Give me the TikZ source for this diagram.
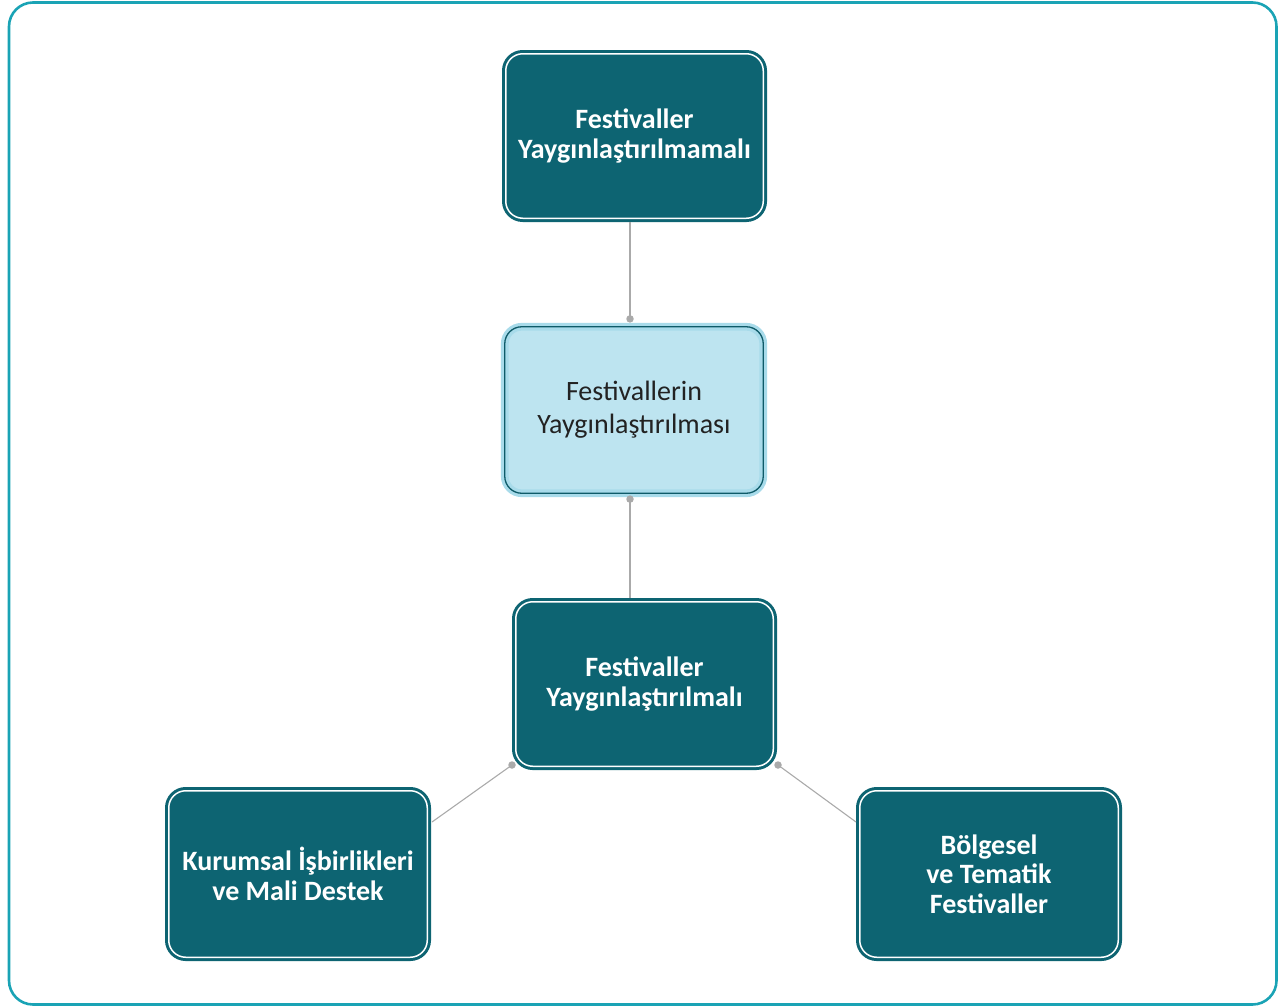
\documentclass[tikz,border=0pt]{standalone}
\usepackage{fontspec}
\setmainfont{Carlito}
\usetikzlibrary{calc}
\definecolor{frame}{HTML}{1AA3B5}
\definecolor{dteal}{HTML}{0D6472}
\definecolor{lfill}{HTML}{BDE4F0}
\definecolor{lglow}{HTML}{A8DBEA}
\definecolor{ldark}{HTML}{0E5A68}
\definecolor{conn}{HTML}{AAAAAA}
\definecolor{dtext}{HTML}{222222}
\tikzset{
  darkbox/.style={rectangle, rounded corners=17pt, fill=dteal, draw=dteal,
    line width=3pt, double=white, double distance=1.5pt, outer sep=3.75pt,
    inner sep=0pt, align=center, text=white,
    font=\bfseries\fontsize{28}{29.5}\selectfont},
  lightbox/.style={rectangle, rounded corners=17pt, fill=lfill, draw=lglow,
    line width=3.2pt, double=ldark, double distance=1.3pt, outer sep=3.85pt,
    inner sep=0pt, align=center, text=dtext,
    font=\fontsize{28}{33}\selectfont},
  link/.style={draw=conn, line width=1.1pt},
  dot/.style={circle, fill=conn, inner sep=0pt, minimum size=7.5pt}
}
\begin{document}
\begin{tikzpicture}[x=1pt,y=-1pt]
\useasboundingbox (0,0) rectangle (1279,1007);
\draw[frame, line width=2.6pt, rounded corners=24pt] (9,2.5) rectangle (1276.5,1004.5);

\node[darkbox, minimum width=257.5pt, minimum height=164.5pt] (top) at (634.5,136) {Festivaller\\Yaygınlaştırılmamalı};
\node[lightbox, minimum width=258.5pt, minimum height=166.5pt] (mid) at (634,410) {Festivallerin\\Yaygınlaştırılması};
\node[darkbox, minimum width=257.5pt, minimum height=164.5pt] (bot) at (644.5,684) {Festivaller\\Yaygınlaştırılmalı};
\node[darkbox, minimum width=258.5pt, minimum height=166.5pt] (left) at (298,874) {Kurumsal İşbirlikleri\\ve Mali Destek};
\node[darkbox, minimum width=258.5pt, minimum height=166.5pt] (right) at (989,874) {Bölgesel\\ve Tematik\\Festivaller};

\coordinate (d1) at ($(mid.north)+(-4,-4)$);
\coordinate (d2) at ($(mid.south)+(-4,2)$);
\coordinate (d3) at ($(bot.south west)+(0,-5)$);
\coordinate (d4) at ($(bot.south east)+(1,-5)$);

\draw[link] (top.south -| d1) -- (d1);
\draw[link] (d2) -- (d2 |- bot.north);
\draw[link] (d3) -- ($(left.east)+(1,-52)$);
\draw[link] (d4) -- ($(right.west)+(0,-52)$);
\node[dot] at (d1) {};
\node[dot] at (d2) {};
\node[dot] at (d3) {};
\node[dot] at (d4) {};
\end{tikzpicture}
\end{document}
